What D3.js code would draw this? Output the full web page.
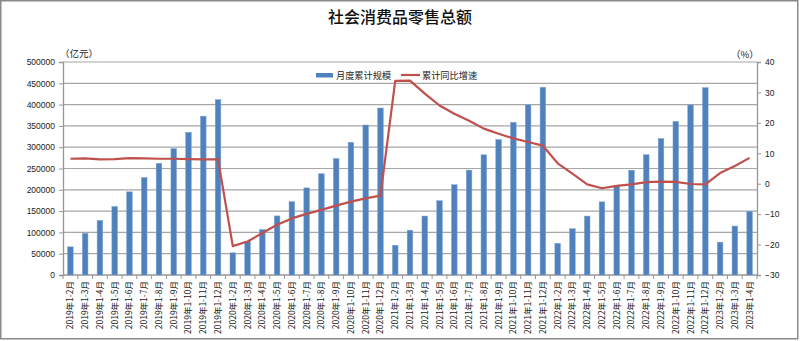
<!DOCTYPE html>
<html>
<head>
<meta charset="utf-8">
<script src="https://cdn.jsdelivr.net/npm/d3@7/dist/d3.min.js"></script>
<style>
  html, body { margin: 0; padding: 0; background: #fff; }
  svg { display: block; }
</style>
</head>
<body>
<svg id="chart" width="800" height="341"></svg>
<script>
// Periods (cumulative, year-to-date)
const periods = [
  "2019年1-2月","2019年1-3月","2019年1-4月","2019年1-5月","2019年1-6月","2019年1-7月",
  "2019年1-8月","2019年1-9月","2019年1-10月","2019年1-11月","2019年1-12月",
  "2020年1-2月","2020年1-3月","2020年1-4月","2020年1-5月","2020年1-6月","2020年1-7月",
  "2020年1-8月","2020年1-9月","2020年1-10月","2020年1-11月","2020年1-12月",
  "2021年1-2月","2021年1-3月","2021年1-4月","2021年1-5月","2021年1-6月","2021年1-7月",
  "2021年1-8月","2021年1-9月","2021年1-10月","2021年1-11月","2021年1-12月",
  "2022年1-2月","2022年1-3月","2022年1-4月","2022年1-5月","2022年1-6月","2022年1-7月",
  "2022年1-8月","2022年1-9月","2022年1-10月","2022年1-11月","2022年1-12月",
  "2023年1-2月","2023年1-3月","2023年1-4月"
];

// 月度累计规模 (亿元)
const retailTotal = [
  66064, 97790, 128143, 160814, 195210, 228771, 262179, 296674, 335029, 372872, 411649,
  52130, 78580, 106758, 138730, 172256, 204459, 237638, 273324, 311500, 352100, 391981,
  69737, 105221, 138373, 174319, 211904, 246223, 282164, 318057, 358511, 399383, 440823,
  74426, 108659, 138318, 171689, 210432, 246003, 282293, 320305, 360575, 399190, 439733,
  77067, 114922, 149483
];

// 累计同比增速 (%)
const yoyGrowth = [
  8.2, 8.3, 8.0, 8.1, 8.4, 8.3, 8.2, 8.2, 8.1, 8.0, 8.0,
  -20.5, -19.0, -16.2, -13.5, -11.4, -9.9, -8.6, -7.2, -5.9, -4.8, -3.9,
  33.8, 33.9, 29.6, 25.7, 23.0, 20.7, 18.1, 16.4, 14.9, 13.7, 12.5,
  6.7, 3.3, -0.2, -1.5, -0.7, -0.2, 0.5, 0.7, 0.6, -0.1, -0.2,
  3.5, 5.8, 8.5
];

const leftTicks = [0, 50000, 100000, 150000, 200000, 250000, 300000, 350000, 400000, 450000, 500000];
const rightTicks = [-30, -20, -10, 0, 10, 20, 30, 40];

const title = "社会消费品零售总额";
const seriesNames = ["月度累计规模", "累计同比增速"];

const BAR_COLOR = "#4F81BD";
const LINE_COLOR = "#C0504D";
const GRID_COLOR = "#a6a6a6";
const AXIS_COLOR = "#969696";
const TEXT_COLOR = "#222";
const NUM_FONT = "'Liberation Sans', Arial, sans-serif";
const CJK_FONT = "'Noto Sans CJK SC', sans-serif";

const svg = d3.select("#chart");
const plot = { left: 63, right: 757, top: 62, bottom: 275 };

const x = d3.scaleBand().domain(periods).range([plot.left, plot.right]).paddingInner(0).paddingOuter(0);
const yL = d3.scaleLinear().domain([0, 500000]).range([plot.bottom, plot.top]);
const yR = d3.scaleLinear().domain([-30, 40]).range([plot.bottom, plot.top]);

// outer frame
svg.append("rect")
  .attr("x", 0.75).attr("y", 0.75).attr("width", 797).attr("height", 338)
  .attr("fill", "#fff").attr("stroke", "#8a8a8a").attr("stroke-width", 1.5);

// title
svg.append("text")
  .attr("x", 400).attr("y", 23)
  .attr("text-anchor", "middle")
  .attr("font-family", CJK_FONT).attr("font-size", 16).attr("font-weight", 500)
  .attr("fill", "#111")
  .text(title);

// horizontal gridlines from the left axis
svg.append("g").selectAll("line").data(leftTicks.slice(1)).join("line")
  .attr("x1", plot.left).attr("x2", plot.right)
  .attr("y1", d => yL(d)).attr("y2", d => yL(d))
  .attr("stroke", GRID_COLOR).attr("stroke-width", 1.2);

// left axis
const leftAxis = svg.append("g").attr("transform", `translate(${plot.left},0)`)
  .call(d3.axisLeft(yL).tickValues(leftTicks).tickFormat(d3.format("d")).tickSize(4).tickPadding(4));
leftAxis.select(".domain").attr("stroke", AXIS_COLOR).attr("stroke-width", 1.3);
leftAxis.selectAll(".tick line").attr("stroke", AXIS_COLOR);
leftAxis.selectAll("text").attr("font-family", NUM_FONT).attr("font-size", 8.5).attr("fill", TEXT_COLOR);

// right axis
const rightAxis = svg.append("g").attr("transform", `translate(${plot.right},0)`)
  .call(d3.axisRight(yR).tickValues(rightTicks).tickSize(4).tickPadding(4));
rightAxis.select(".domain").attr("stroke", AXIS_COLOR).attr("stroke-width", 1.3);
rightAxis.selectAll(".tick line").attr("stroke", AXIS_COLOR);
rightAxis.selectAll("text").attr("font-family", NUM_FONT).attr("font-size", 8.5).attr("fill", TEXT_COLOR);

// bottom axis: ticks between categories
const bottom = svg.append("g");
bottom.append("line")
  .attr("x1", plot.left).attr("x2", plot.right)
  .attr("y1", plot.bottom).attr("y2", plot.bottom)
  .attr("stroke", AXIS_COLOR).attr("stroke-width", 1.3);
const boundaries = periods.map(p => x(p)).concat([x(periods[periods.length - 1]) + x.bandwidth()]);
bottom.selectAll("line.tk").data(boundaries).join("line").attr("class", "tk")
  .attr("x1", d => d).attr("x2", d => d)
  .attr("y1", plot.bottom).attr("y2", plot.bottom + 4)
  .attr("stroke", AXIS_COLOR);
bottom.selectAll("text").data(periods).join("text")
  .attr("transform", d => `translate(${x(d) + x.bandwidth() / 2},${plot.bottom + 6}) rotate(-90)`)
  .attr("text-anchor", "end").attr("dy", "0.35em")
  .attr("font-family", CJK_FONT).attr("font-size", 8.5).attr("fill", TEXT_COLOR)
  .text(d => d);

// unit labels
svg.append("text").attr("x", 60).attr("y", 57)
  .attr("font-family", CJK_FONT).attr("font-size", 9.5).attr("fill", TEXT_COLOR)
  .text("（亿元）");
svg.append("text").attr("x", 731).attr("y", 58)
  .attr("font-family", CJK_FONT).attr("font-size", 9.5).attr("fill", TEXT_COLOR)
  .text("（%）");

// bars
const barW = x.bandwidth() * 0.38;
svg.append("g").selectAll("rect").data(retailTotal).join("rect")
  .attr("x", (d, i) => x(periods[i]) + (x.bandwidth() - barW) / 2)
  .attr("y", d => yL(d))
  .attr("width", barW)
  .attr("height", d => yL(0) - yL(d))
  .attr("fill", BAR_COLOR)
  .attr("stroke", "#7ea3d3").attr("stroke-width", 0.5);

// growth line
const line = d3.line()
  .x((d, i) => x(periods[i]) + x.bandwidth() / 2)
  .y(d => yR(d));
svg.append("path").datum(yoyGrowth)
  .attr("d", line)
  .attr("fill", "none").attr("stroke", LINE_COLOR).attr("stroke-width", 2.2)
  .attr("stroke-linejoin", "round");

// legend
const lg = svg.append("g");
lg.append("rect").attr("x", 316).attr("y", 73).attr("width", 17).attr("height", 4.5).attr("fill", BAR_COLOR);
lg.append("text").attr("x", 336).attr("y", 75.5).attr("dy", "0.35em")
  .attr("font-family", CJK_FONT).attr("font-size", 9.2).attr("fill", TEXT_COLOR).text(seriesNames[0]);
lg.append("line").attr("x1", 401).attr("x2", 420).attr("y1", 75).attr("y2", 75)
  .attr("stroke", LINE_COLOR).attr("stroke-width", 2.2);
lg.append("text").attr("x", 422).attr("y", 75.5).attr("dy", "0.35em")
  .attr("font-family", CJK_FONT).attr("font-size", 9.2).attr("fill", TEXT_COLOR).text(seriesNames[1]);
</script>
</body>
</html>
